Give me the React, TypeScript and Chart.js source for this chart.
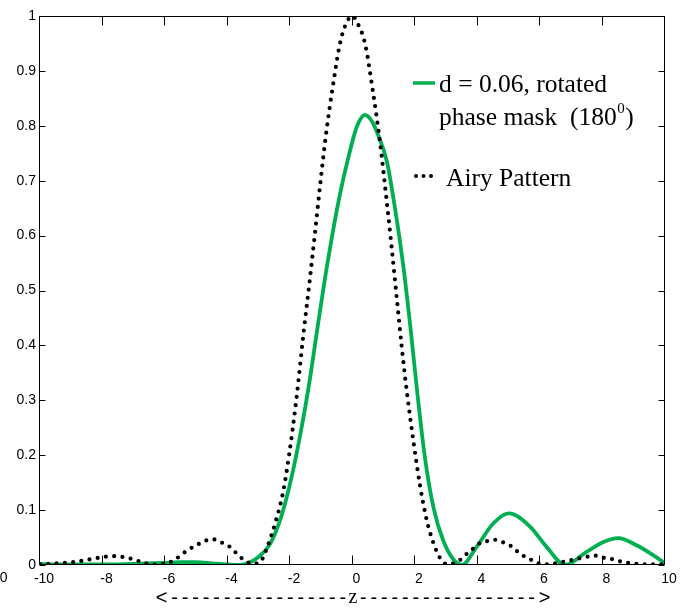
import { useEffect, useRef } from 'react';
import { Chart, registerables } from 'chart.js';

Chart.register(...registerables);

// Airy pattern (dotted black)
const airyZ = [-10, -9.5, -8.95, -8.43, -7.92, -7.66, -7.39, -7.12, -6.89, -6.6, -6.3, -6.0, -5.63, -5.3, -4.93, -4.72, -4.47, -4.24, -3.97, -3.76, -3.49, -3.17, -2.93, -2.74, -2.48, -2.22, -2.03, -1.8, -1.58, -1.36, -1.2, -1.04, -0.83, -0.62, -0.4, -0.19, 0, 0.13, 0.4, 0.66, 0.88, 1.09, 1.25, 1.41, 1.57, 1.73, 1.95, 2.16, 2.37, 2.59, 2.8, 3.05, 3.44, 3.65, 3.87, 4.08, 4.35, 4.59, 4.83, 5.06, 5.27, 5.49, 5.73, 5.95, 6.2, 6.6, 7.01, 7.25, 7.51, 7.76, 8.05, 8.29, 8.54, 8.8, 9.07, 9.5, 10];
const airyI = [0.001, 0.003, 0.005, 0.01, 0.015, 0.016, 0.015, 0.012, 0.008, 0.003, 0.001, 0.002, 0.012, 0.026, 0.038, 0.044, 0.047, 0.042, 0.035, 0.024, 0.01, 0.002, 0.007, 0.031, 0.075, 0.133, 0.2, 0.3, 0.415, 0.523, 0.605, 0.69, 0.792, 0.875, 0.95, 0.988, 1.0, 0.99, 0.95, 0.86, 0.77, 0.665, 0.58, 0.49, 0.4, 0.32, 0.225, 0.145, 0.083, 0.04, 0.013, 0.001, 0.009, 0.02, 0.03, 0.04, 0.044, 0.046, 0.041, 0.035, 0.025, 0.016, 0.009, 0.003, 0.001, 0.004, 0.009, 0.012, 0.015, 0.017, 0.013, 0.011, 0.007, 0.004, 0.002, 0.001, 0.001];

// d = 0.06 rotated phase mask (green)
const maskZ = [-10, -9.5, -9, -8, -7, -6, -5.5, -5, -4.5, -4, -3.6, -3.3, -3.0, -2.64, -2.27, -1.95, -1.63, -1.36, -1.1, -0.8, -0.42, -0.1, 0.15, 0.4, 0.6, 0.8, 1.1, 1.36, 1.63, 1.84, 2.1, 2.32, 2.59, 2.9, 3.23, 3.5, 3.97, 4.51, 5.0, 5.68, 6.21, 6.8, 7.49, 8.03, 8.5, 9.09, 9.62, 10];
const maskI = [0.002, 0.001, 0.001, 0.001, 0.002, 0.004, 0.005, 0.005, 0.003, 0.001, 0.0, 0.004, 0.015, 0.038, 0.09, 0.16, 0.25, 0.34, 0.44, 0.55, 0.67, 0.75, 0.8, 0.82, 0.81, 0.786, 0.735, 0.65, 0.543, 0.44, 0.3, 0.195, 0.105, 0.045, 0.01, 0.0, 0.033, 0.076, 0.094, 0.07, 0.033, 0.0, 0.024, 0.042, 0.049, 0.036, 0.018, 0.003];

const xTickValues = [-10, -8, -6, -4, -2, 0, 2, 4, 6, 8, 10];
const xTickLabels = ['-10', '-8', '-6', '-4', '-2', '0', '2', '4', '6', '8', '10'];
const yTickValues = [0, 0.1, 0.2, 0.3, 0.4, 0.5, 0.6, 0.7, 0.8, 0.9, 1];
const yTickLabels = ['0', '0.1', '0.2', '0.3', '0.4', '0.5', '0.6', '0.7', '0.8', '0.9', '1'];

const legendMaskLine1 = 'd = 0.06, rotated';
const legendMaskLine2 = 'phase mask  (180';
const legendMaskSup = '0';
const legendMaskClose = ')';
const legendAiry = 'Airy Pattern';
const axisTitleLeft = '<-----------------';
const axisTitleMid = 'z';
const axisTitleRight = '----------------->';
const strayLabel = '0';

const GREEN = '#00b050';

const framePlugin = {
  id: 'frame',
  afterDraw(chart: any) {
    const { ctx, chartArea, scales } = chart;
    const { left, right, top, bottom } = chartArea;
    const x = scales.x;
    const y = scales.y;
    ctx.save();
    ctx.strokeStyle = '#000';
    ctx.lineWidth = 1;
    const L = Math.round(left) - 0.5;
    const R = Math.round(right) - 0.5;
    const T = Math.round(top) + 0.5;
    const B = Math.round(bottom) - 0.5;
    ctx.beginPath();
    ctx.rect(L, T, R - L, B - T);
    xTickValues.forEach((v) => {
      const px = Math.round(x.getPixelForValue(v)) - 0.5;
      ctx.moveTo(px, B);
      ctx.lineTo(px, B - 9);
      ctx.moveTo(px, T);
      ctx.lineTo(px, T + 9);
    });
    yTickValues.forEach((v) => {
      const py = Math.round(y.getPixelForValue(v)) + 0.5;
      ctx.moveTo(L, py);
      ctx.lineTo(L + 6, py);
      ctx.moveTo(R, py);
      ctx.lineTo(R - 6, py);
    });
    ctx.stroke();

    // Legend
    ctx.fillStyle = '#000';
    ctx.textBaseline = 'alphabetic';
    ctx.textAlign = 'left';
    ctx.strokeStyle = GREEN;
    ctx.lineWidth = 3.5;
    ctx.beginPath();
    ctx.moveTo(413, 83);
    ctx.lineTo(435, 83);
    ctx.stroke();
    ctx.font = '25.5px "Liberation Serif"';
    ctx.fillText(legendMaskLine1, 439, 92);
    ctx.fillText(legendMaskLine2, 439, 125);
    const w = ctx.measureText(legendMaskLine2).width;
    ctx.font = '15px "Liberation Serif"';
    ctx.fillText(legendMaskSup, 439 + w + 0.5, 113);
    const w2 = ctx.measureText(legendMaskSup).width;
    ctx.font = '25.5px "Liberation Serif"';
    ctx.fillText(legendMaskClose, 439 + w + w2 + 1, 125);
    ctx.beginPath();
    [416, 423.5, 431].forEach((dx) => {
      ctx.moveTo(dx + 2, 176);
      ctx.arc(dx, 176, 2, 0, Math.PI * 2);
    });
    ctx.fill();
    ctx.fillText(legendAiry, 446, 186);

    // Axis title
    const cx = Math.round(x.getPixelForValue(0));
    ctx.font = '20px "Liberation Serif"';
    ctx.textAlign = 'center';
    ctx.fillText(axisTitleMid, cx, 603);
    ctx.font = '20px "Liberation Sans"';
    (ctx as any).letterSpacing = '3.85px';
    ctx.textAlign = 'right';
    ctx.fillText(axisTitleLeft, cx - 3, 604);
    ctx.textAlign = 'left';
    ctx.fillText(axisTitleRight, cx + 7, 604);
    (ctx as any).letterSpacing = '0px';

    // stray label at far left
    ctx.font = '14px "Liberation Sans"';
    ctx.textAlign = 'right';
    ctx.fillText(strayLabel, 7.5, 582);
    ctx.restore();
  },
};

export default function App() {
  const ref = useRef<HTMLCanvasElement | null>(null);
  useEffect(() => {
    if (!ref.current) return;
    const chart = new Chart(ref.current, {
      type: 'line',
      data: {
        datasets: [
          {
            label: legendAiry,
            data: airyZ.map((z, i) => ({ x: z, y: airyI[i] })),
            borderColor: '#000',
            borderWidth: 4.2,
            borderDash: [0, 8.3],
            borderCapStyle: 'round',
            pointRadius: 0,
            cubicInterpolationMode: 'monotone',
            fill: false,
          },
          {
            label: legendMaskLine1,
            data: maskZ.map((z, i) => ({ x: z, y: maskI[i] })),
            borderColor: GREEN,
            borderWidth: 3.8,
            pointRadius: 0,
            cubicInterpolationMode: 'monotone',
            fill: false,
          },
        ],
      },
      options: {
        animation: false,
        responsive: false,
        maintainAspectRatio: false,
        layout: { padding: { top: 16, right: 23, left: 0, bottom: 0 } },
        plugins: { legend: { display: false }, tooltip: { enabled: false } },
        scales: {
          x: {
            type: 'linear',
            min: -10,
            max: 10,
            afterBuildTicks: (s: any) => {
              s.ticks = xTickValues.map((v) => ({ value: v }));
            },
            afterFit: (s: any) => {
              s.height = 43;
            },
            grid: { display: false, drawTicks: false, tickLength: 0 },
            border: { display: false },
            ticks: {
              autoSkip: false,
              maxRotation: 0,
              padding: 6,
              labelOffset: 4,
              color: '#000',
              font: { family: '"Liberation Sans"', size: 14 },
              callback: (v: any) => {
                const i = xTickValues.indexOf(Number(v));
                return i >= 0 ? xTickLabels[i] : '';
              },
            },
          },
          y: {
            type: 'linear',
            min: 0,
            max: 1,
            afterBuildTicks: (s: any) => {
              s.ticks = yTickValues.map((v) => ({ value: v }));
            },
            afterFit: (s: any) => {
              s.width = 40;
            },
            grid: { display: false, drawTicks: false, tickLength: 0 },
            border: { display: false },
            ticks: {
              autoSkip: false,
              padding: 4,
              color: '#000',
              font: { family: '"Liberation Sans"', size: 14 },
              callback: (v: any) => {
                const i = yTickValues.findIndex((t) => Math.abs(t - Number(v)) < 1e-9);
                return i >= 0 ? yTickLabels[i] : '';
              },
            },
          },
        },
      },
      plugins: [framePlugin],
    } as any);
    return () => chart.destroy();
  }, []);
  return (
    <div style={{ position: 'fixed', left: 0, top: 0, width: 688, height: 608, background: '#fff' }}>
      <canvas ref={ref} width={688} height={608} style={{ width: 688, height: 608, display: 'block' }} />
    </div>
  );
}
